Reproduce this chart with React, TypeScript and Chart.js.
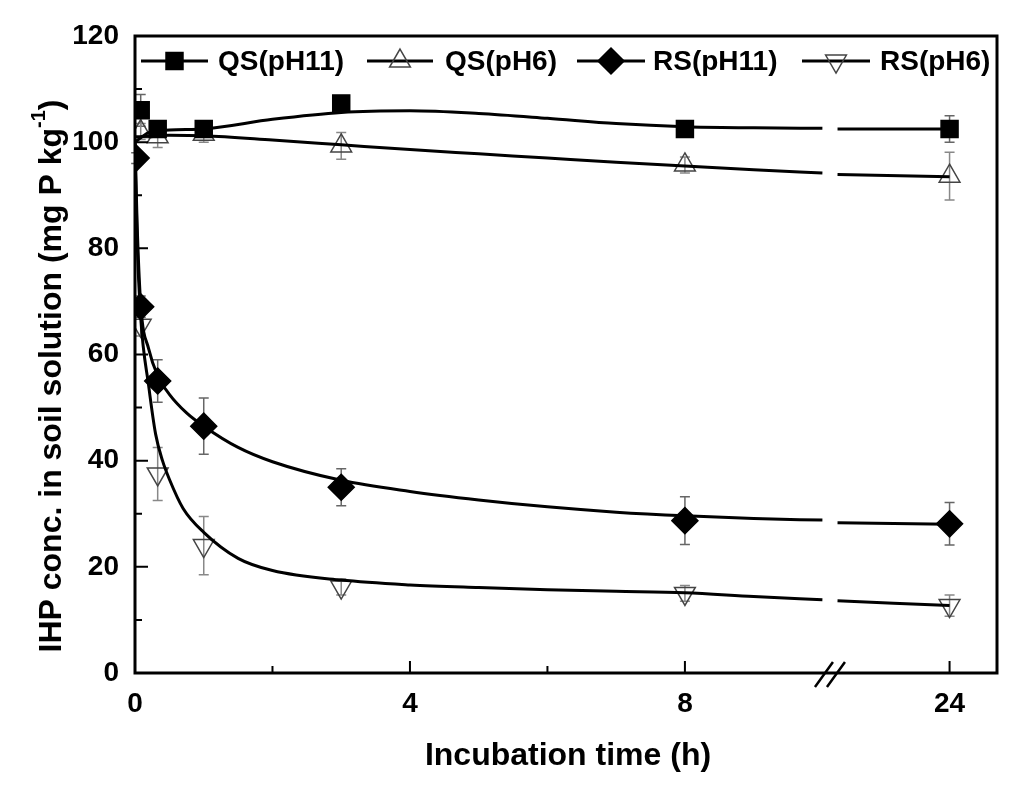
import React, { useEffect, useRef } from 'react';
import { Chart, registerables } from 'chart.js';

Chart.register(...registerables);

const FONT = '"Liberation Sans", Arial, Helvetica, sans-serif';

// ---------------- data ----------------
const seriesNames = ['QS(pH11)', 'QS(pH6)', 'RS(pH11)', 'RS(pH6)'];

const qsPh11Time = [0.083, 0.33, 1, 3, 8, 24];
const qsPh11Value = [106, 102.5, 102.5, 107.3, 102.5, 102.5];
const qsPh11Error = [3, 1.5, 1.5, 1, 1, 2.5];

const qsPh6Time = [0.083, 0.33, 1, 3, 8, 24];
const qsPh6Value = [102, 101, 101.5, 99.3, 95.7, 93.6];
const qsPh6Error = [1.5, 2, 1.5, 2.5, 1.5, 4.5];

const rsPh11Time = [0.017, 0.083, 0.33, 1, 3, 8, 24];
const rsPh11Value = [97, 69, 55, 46.5, 35, 28.7, 28.1];
const rsPh11Error = [1, 2, 4, 5.3, 3.5, 4.5, 4];

const rsPh6Time = [0.083, 0.33, 1, 3, 8, 24];
const rsPh6Value = [65.5, 37.5, 24, 16.2, 15, 12.7];
const rsPh6Error = [2, 5, 5.5, 1.5, 1.5, 2];

// fitted curves
const qsPh11FitTime = [0, 0.2, 0.5, 1, 2, 3, 4, 5, 6, 7, 8, 9, 10, 22, 24];
const qsPh11FitValue = [100, 101.8, 102.3, 102.5, 104.3, 105.6, 105.9, 105.4, 104.5, 103.5, 102.9, 102.7, 102.6, 102.5, 102.5];

const qsPh6FitTime = [0, 0.5, 1, 2, 3, 4, 5, 6, 7, 8, 9, 10, 22, 24];
const qsPh6FitValue = [101, 101.3, 101.2, 100.4, 99.5, 98.6, 97.8, 97, 96.2, 95.5, 94.8, 94.2, 93.9, 93.5];

const rsPh11FitTime = [0, 0.03, 0.083, 0.2, 0.33, 0.5, 0.75, 1, 1.5, 2, 3, 4, 5, 6, 7, 8, 9, 10, 22, 24];
const rsPh11FitValue = [100, 85, 69.5, 61, 56, 52.5, 49, 46.5, 42.5, 39.8, 36.3, 34.2, 32.6, 31.3, 30.3, 29.6, 29.1, 28.8, 28.3, 28];

const rsPh6FitTime = [0, 0.03, 0.083, 0.2, 0.3, 0.4, 0.5, 0.7, 1, 1.5, 2, 3, 4, 5, 6, 7, 8, 9, 10, 22, 24];
const rsPh6FitValue = [100, 82, 67, 54, 45, 40, 36.5, 31, 26.5, 21.6, 19.3, 17.5, 16.6, 16.1, 15.7, 15.4, 15.1, 14.4, 13.8, 13.6, 12.7];

const xTickValues = [0, 4, 8, 24];
const xMinorTickValues = [2, 6];
const yMin = 0;
const yMax = 120;
const yStep = 20;

const xTitle = 'Incubation time (h)';
const yTitleMain = 'IHP conc. in soil solution (mg P kg';
const yTitleSup = '-1';
const yTitleEnd = ')';

// ---------------- broken x axis ----------------
const BREAK_FROM = 10;
const BREAK_TO = 22;
const SEG2_START = 10.22;
const SEG2_SCALE = 0.815;
const X_MAX = 12.54;
const toAxis = (t: number) => (t <= BREAK_FROM ? t : SEG2_START + (t - BREAK_TO) * SEG2_SCALE);

const pts = (ts: number[], vs: number[]) => ts.map((t, i) => ({ x: toAxis(t), y: vs[i] }));
const fitPts = (ts: number[], vs: number[]) => {
  const out: any[] = [];
  ts.forEach((t, i) => {
    if (t > BREAK_FROM && ts[i - 1] <= BREAK_FROM) {
      out.push({ x: (toAxis(BREAK_FROM) + toAxis(BREAK_TO)) / 2, y: null });
    }
    out.push({ x: toAxis(t), y: vs[i] });
  });
  return out;
};

const styles = [
  { shape: 'rect', fill: '#000', stroke: '#000', radius: 12, rotation: 0, err: '#666' },
  { shape: 'triangle', fill: 'rgba(255,255,255,0)', stroke: '#444', radius: 12, rotation: 0, err: '#888' },
  { shape: 'rectRot', fill: '#000', stroke: '#000', radius: 13, rotation: 0, err: '#666' },
  { shape: 'triangle', fill: 'rgba(255,255,255,0)', stroke: '#444', radius: 12, rotation: 180, err: '#888' },
];

function drawMarker(ctx: CanvasRenderingContext2D, kind: number, x: number, y: number) {
  const s = styles[kind];
  ctx.save();
  ctx.beginPath();
  if (s.shape === 'rect') {
    const h = s.radius * Math.SQRT1_2;
    ctx.rect(x - h, y - h, 2 * h, 2 * h);
  } else if (s.shape === 'rectRot') {
    const r = s.radius;
    ctx.moveTo(x - r, y);
    ctx.lineTo(x, y - r);
    ctx.lineTo(x + r, y);
    ctx.lineTo(x, y + r);
    ctx.closePath();
  } else {
    const r = s.radius;
    const dir = s.rotation === 180 ? -1 : 1;
    const a = Math.PI / 6;
    ctx.moveTo(x, y - dir * r);
    ctx.lineTo(x + r * Math.cos(a), y + dir * r * Math.sin(a));
    ctx.lineTo(x - r * Math.cos(a), y + dir * r * Math.sin(a));
    ctx.closePath();
  }
  ctx.fillStyle = s.fill;
  ctx.fill();
  ctx.lineWidth = 1.5;
  ctx.strokeStyle = s.stroke;
  ctx.stroke();
  ctx.restore();
}

const errorBarPlugin = {
  id: 'errorBars',
  beforeDatasetsDraw(chart: any) {
    const ctx = chart.ctx;
    const xs = chart.scales.x;
    const ys = chart.scales.y;
    chart.data.datasets.forEach((ds: any) => {
      if (!ds.errors) return;
      ctx.save();
      ctx.strokeStyle = ds.errorColor;
      ctx.lineWidth = 1.5;
      ds.data.forEach((p: any, j: number) => {
        const e = ds.errors[j];
        if (!e) return;
        const px = xs.getPixelForValue(p.x);
        const top = ys.getPixelForValue(p.y + e);
        const bot = ys.getPixelForValue(p.y - e);
        ctx.beginPath();
        ctx.moveTo(px, top);
        ctx.lineTo(px, bot);
        ctx.moveTo(px - 5, top);
        ctx.lineTo(px + 5, top);
        ctx.moveTo(px - 5, bot);
        ctx.lineTo(px + 5, bot);
        ctx.stroke();
      });
      ctx.restore();
    });
  },
};

const framePlugin = {
  id: 'frame',
  afterDraw(chart: any) {
    const ctx: CanvasRenderingContext2D = chart.ctx;
    const { left, right, top, bottom } = chart.chartArea;
    const xs = chart.scales.x;
    const ys = chart.scales.y;
    ctx.save();
    ctx.strokeStyle = '#000';
    ctx.lineWidth = 3;
    ctx.strokeRect(left, top, right - left, bottom - top);

    // inward ticks
    ctx.lineWidth = 2;
    ctx.beginPath();
    for (let v = yMin; v <= yMax; v += yStep / 2) {
      const py = ys.getPixelForValue(v);
      const len = v % yStep === 0 ? 13 : 7;
      ctx.moveTo(left, py);
      ctx.lineTo(left + len, py);
    }
    xTickValues.forEach((t) => {
      const px = xs.getPixelForValue(toAxis(t));
      ctx.moveTo(px, bottom);
      ctx.lineTo(px, bottom - 12);
    });
    xMinorTickValues.forEach((t) => {
      const px = xs.getPixelForValue(toAxis(t));
      ctx.moveTo(px, bottom);
      ctx.lineTo(px, bottom - 7);
    });
    ctx.stroke();

    // axis break marks
    const bx = xs.getPixelForValue((toAxis(BREAK_FROM) + toAxis(BREAK_TO)) / 2);
    ctx.lineWidth = 2.5;
    ctx.beginPath();
    [-6, 6].forEach((d) => {
      ctx.moveTo(bx + d - 9, bottom + 14);
      ctx.lineTo(bx + d + 9, bottom - 11);
    });
    ctx.stroke();

    // legend
    const legendY = 61;
    const items = [
      { x1: 141, x2: 208, tx: 218 },
      { x1: 367, x2: 433, tx: 445 },
      { x1: 577, x2: 645, tx: 653 },
      { x1: 802, x2: 870, tx: 880 },
    ];
    ctx.font = `bold 28px ${FONT}`;
    ctx.textBaseline = 'middle';
    ctx.fillStyle = '#000';
    items.forEach((it, i) => {
      ctx.lineWidth = 3;
      ctx.strokeStyle = '#000';
      ctx.beginPath();
      ctx.moveTo(it.x1, legendY);
      ctx.lineTo(it.x2, legendY);
      ctx.stroke();
      drawMarker(ctx, i, (it.x1 + it.x2) / 2, legendY);
      ctx.fillStyle = '#000';
      ctx.textAlign = 'left';
      ctx.fillText(seriesNames[i], it.tx, legendY + 1);
    });

    // x title
    ctx.font = `bold 32px ${FONT}`;
    ctx.textAlign = 'center';
    ctx.textBaseline = 'alphabetic';
    ctx.fillText(xTitle, (left + right) / 2 + 2, 765);

    // y title (rotated with superscript)
    const mainFont = `bold 32px ${FONT}`;
    const supFont = `bold 20px ${FONT}`;
    ctx.font = mainFont;
    const w1 = ctx.measureText(yTitleMain).width;
    const w3 = ctx.measureText(yTitleEnd).width;
    ctx.font = supFont;
    const w2 = ctx.measureText(yTitleSup).width;
    const total = w1 + w2 + w3;
    ctx.translate(61, 376);
    ctx.rotate(-Math.PI / 2);
    ctx.textAlign = 'left';
    let x0 = -total / 2;
    ctx.font = mainFont;
    ctx.fillText(yTitleMain, x0, 0);
    x0 += w1;
    ctx.font = supFont;
    ctx.fillText(yTitleSup, x0, -16);
    x0 += w2;
    ctx.font = mainFont;
    ctx.fillText(yTitleEnd, x0, 0);
    ctx.restore();
  },
};

export default function App() {
  const canvasRef = useRef<HTMLCanvasElement | null>(null);

  useEffect(() => {
    document.body.style.margin = '0';
    document.body.style.overflow = 'hidden';
    const canvas = canvasRef.current;
    if (!canvas) return;

    const pointSets = [
      { t: qsPh11Time, v: qsPh11Value, e: qsPh11Error },
      { t: qsPh6Time, v: qsPh6Value, e: qsPh6Error },
      { t: rsPh11Time, v: rsPh11Value, e: rsPh11Error },
      { t: rsPh6Time, v: rsPh6Value, e: rsPh6Error },
    ];
    const fitSets = [
      { t: qsPh11FitTime, v: qsPh11FitValue },
      { t: qsPh6FitTime, v: qsPh6FitValue },
      { t: rsPh11FitTime, v: rsPh11FitValue },
      { t: rsPh6FitTime, v: rsPh6FitValue },
    ];

    const datasets: any[] = [];
    pointSets.forEach((s, i) => {
      const st = styles[i];
      datasets.push({
        label: seriesNames[i],
        data: pts(s.t, s.v),
        errors: s.e,
        errorColor: st.err,
        showLine: false,
        pointStyle: st.shape,
        rotation: st.rotation,
        pointRadius: st.radius,
        pointHoverRadius: st.radius,
        pointBackgroundColor: st.fill,
        pointBorderColor: st.stroke,
        pointBorderWidth: 1.5,
        order: 2,
      });
    });
    fitSets.forEach((s, i) => {
      datasets.push({
        label: seriesNames[i] + ' fit',
        data: fitPts(s.t, s.v),
        showLine: true,
        borderColor: '#000',
        borderWidth: 3,
        pointRadius: 0,
        pointHoverRadius: 0,
        cubicInterpolationMode: 'monotone',
        spanGaps: false,
        fill: false,
        order: 1,
      });
    });

    const chart = new Chart(canvas, {
      type: 'line',
      data: { datasets },
      options: {
        responsive: false,
        animation: false,
        devicePixelRatio: 1,
        layout: { padding: { left: 0, top: 36, right: 16, bottom: 0 } },
        plugins: { legend: { display: false }, tooltip: { enabled: false } },
        scales: {
          x: {
            type: 'linear',
            min: 0,
            max: X_MAX,
            grid: { display: false, drawTicks: false },
            border: { display: false },
            afterBuildTicks: (scale: any) => {
              scale.ticks = xTickValues.map((t) => ({ value: toAxis(t) }));
            },
            afterFit: (scale: any) => {
              scale.height = 793 - 673;
            },
            ticks: {
              color: '#000',
              padding: 14,
              maxRotation: 0,
              autoSkip: false,
              font: { family: FONT, size: 28, weight: 'bold' },
              callback: (value: any) => {
                const t = xTickValues.find((tt) => Math.abs(toAxis(tt) - value) < 1e-6);
                return t === undefined ? '' : String(t);
              },
            },
          },
          y: {
            type: 'linear',
            min: yMin,
            max: yMax,
            grid: { display: false, drawTicks: false },
            border: { display: false },
            afterFit: (scale: any) => {
              scale.width = 135;
            },
            ticks: {
              stepSize: yStep,
              color: '#000',
              padding: 16,
              font: { family: FONT, size: 28, weight: 'bold' },
            },
          },
        },
      } as any,
      plugins: [errorBarPlugin, framePlugin],
    });
    return () => chart.destroy();
  }, []);

  return (
    <div style={{ width: 1013, height: 793, background: '#fff' }}>
      <canvas ref={canvasRef} width={1013} height={793} style={{ display: 'block' }} />
    </div>
  );
}
